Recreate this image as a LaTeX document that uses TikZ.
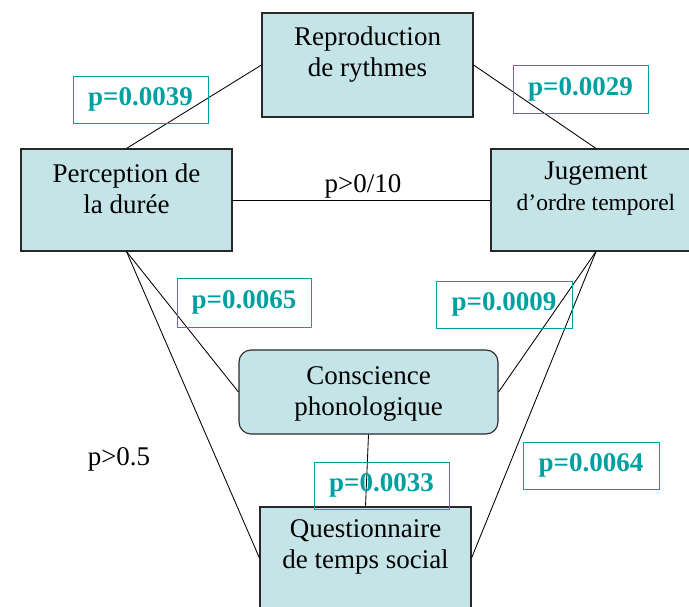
\documentclass[tikz,border=0pt]{standalone}
\usepackage{fontspec}
\setmainfont{Liberation Serif}
\definecolor{boxfill}{RGB}{197,228,231}
\definecolor{boxline}{RGB}{40,40,40}
\definecolor{pteal}{RGB}{0,160,160}
\begin{document}
\begin{tikzpicture}[x=1pt,y=-1pt,
  box/.style={draw=boxline,line width=1.1pt,fill=boxfill,inner sep=0pt},
  txt/.style={align=center,font=\fontsize{27}{31}\selectfont,inner sep=0pt},
  plab/.style={draw=pteal,line width=0.9pt,text=pteal,inner sep=0pt,
    font=\fontsize{27}{31}\selectfont\bfseries},
  lnk/.style={line width=0.85pt}]
\useasboundingbox (0,0) rectangle (689,607);
\clip (0,0) rectangle (689,607);
% boxes
\node[box,minimum width=211pt,minimum height=104pt] (rep) at (367.5,65) {};
\node[box,minimum width=211pt,minimum height=102pt] (per) at (126.5,200) {};
\node[box,minimum width=210pt,minimum height=102pt] (jug) at (596,200) {};
\node[box,rounded corners=12pt,minimum width=259pt,minimum height=84pt] (con) at (368.5,392) {};
\node[box,minimum width=211pt,minimum height=102pt] (que) at (365.5,558) {};
% connectors
\draw[lnk] (per.north) -- (rep.west);
\draw[lnk] (rep.east) -- (jug.north);
\draw[lnk] (per.east) -- (jug.west);
\draw[lnk] (per.south) -- (con.west);
\draw[lnk] (per.south) -- (que.west);
\draw[lnk] (jug.south) -- (con.east);
\draw[lnk] (jug.south) -- (que.east);
\draw[lnk] (con.south) -- (que.north);
% box texts
\node[txt] (repT) at (367.5,55) {Reproduction\\de rythmes};
\node[txt] (perT) at (126.5,189) {Perception de\\la durée};
\node[txt] (jugT) at (596,189) {Jugement\\{\fontsize{23.5}{28}\selectfont d’ordre temporel}};
\node[txt] (conT) at (368.5,394) {Conscience\\phonologique};
\node[txt] (queT) at (365.5,547) {Questionnaire\\de temps social};
% plain labels
\node[txt,anchor=base] (p10) at (363,193) {p>0/10};
\node[txt,anchor=base] (p05) at (119,465) {p>0.5};
% teal labels
\node[plab,minimum width=135pt,minimum height=47pt] (l39) at (140.5,99.5) {p=0.0039};
\node[plab,minimum width=135pt,minimum height=48pt] (l29) at (580.5,89) {p=0.0029};
\node[plab,minimum width=134pt,minimum height=49pt] (l65) at (244,302.5) {p=0.0065};
\node[plab,minimum width=136pt,minimum height=47pt] (l09) at (504,304.5) {p=0.0009};
\node[plab,minimum width=135pt,minimum height=47pt] (l33) at (381.5,485.5) {p=0.0033};
\node[plab,minimum width=136pt,minimum height=47pt] (l64) at (591,465.5) {p=0.0064};
\end{tikzpicture}
\end{document}
